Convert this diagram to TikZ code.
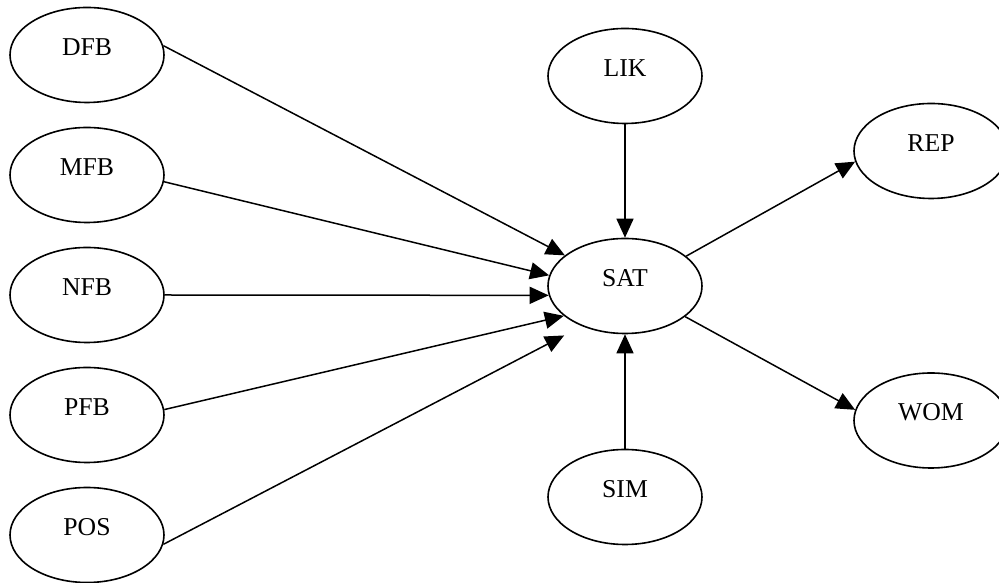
\documentclass[tikz,border=0pt]{standalone}
\usepackage{fontspec}
\setmainfont{Liberation Serif}
\usepackage{tikz}
\usetikzlibrary{arrows.meta,shapes.geometric}

\begin{document}
\begin{tikzpicture}[x=1pt,y=1pt,
	var_node/.style={ellipse,draw,line width=1.6pt,minimum width=154pt,minimum height=95pt,inner sep=0pt,
		font=\fontsize{25.7}{30}\selectfont,text height=18pt,text depth=17pt},
	link/.style={line width=1.5pt,-{Triangle[length=19pt,width=17pt]}}]
	\useasboundingbox (0,0) rectangle (999,583);
	\node[var_node] (dfb) at (87,528) {DFB};
	\node[var_node] (mfb) at (87,408) {MFB};
	\node[var_node] (nfb) at (87,288) {NFB};
	\node[var_node] (pfb) at (87,168) {PFB};
	\node[var_node] (pos) at (87,48) {POS};
	\node[var_node] (sat) at (625,297) {SAT};
	\node[var_node] (lik) at (625,507) {LIK};
	\node[var_node] (sim) at (625,86) {SIM};
	\node[var_node] (rep) at (931,432) {REP};
	\node[var_node] (wom) at (931,162.5) {WOM};
	
	\draw[link] (dfb.7) -- (sat.153);
	\draw[link] (mfb.-5) -- (sat.172);
	\draw[link] (nfb.east) -- (sat.187);
	\draw[link] (pfb.4) -- (sat.206);
	\draw[link,shorten >=20pt] (pos.-7) -- (sat.223);
	\draw[link] (lik.south) -- (sat.north);
	\draw[link] (sim.north) -- (sat.south);
	\draw[link] (sat.26) -- (rep.188);
	\draw[link] (sat.-27) -- (wom.172);
\end{tikzpicture}
\end{document}
